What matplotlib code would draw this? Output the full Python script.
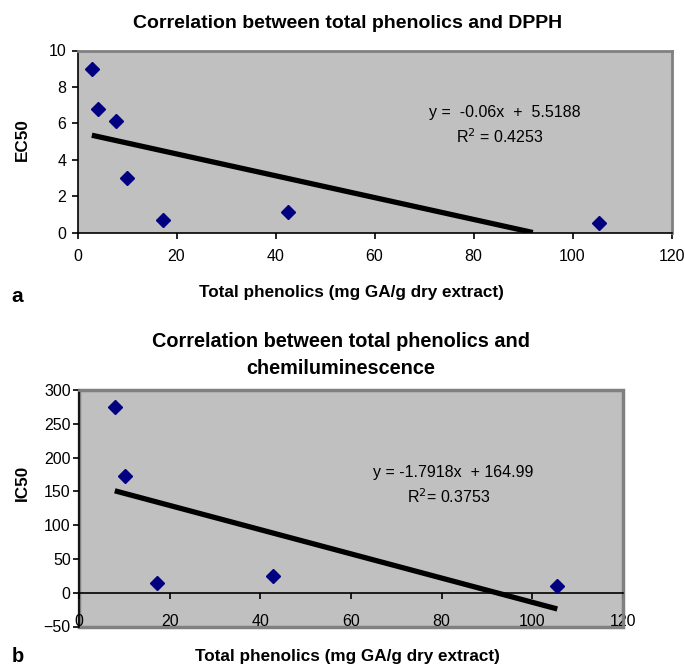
import numpy as np
import matplotlib
matplotlib.use("Agg")
import matplotlib.pyplot as plt
from matplotlib.patches import Rectangle

plt.rcParams["font.family"] = ["Liberation Sans", "DejaVu Sans"]

# Panel a: total phenolics vs DPPH EC50
phen_a = [2.9, 4.2, 7.8, 9.9, 17.2, 42.6, 105.4]
ec50 = [9.0, 6.8, 6.1, 3.0, 0.7, 1.1, 0.5]
slope_a, icpt_a, r2_a = -0.06, 5.5188, 0.4253

# Panel b: total phenolics vs chemiluminescence IC50
phen_b = [7.9, 10.1, 17.3, 42.8, 105.5]
ic50 = [275, 173, 14, 25, 10]
slope_b, icpt_b, r2_b = -1.7918, 164.99, 0.3753

xticks = [0, 20, 40, 60, 80, 100, 120]
yticks_a = [0, 2, 4, 6, 8, 10]
yticks_b = [-50, 0, 50, 100, 150, 200, 250, 300]

W, H = 685, 668
fig = plt.figure(figsize=(W / 100, H / 100), dpi=100)

def box(l, t, r, b):
    return [l / W, 1 - b / H, (r - l) / W, (b - t) / H]

bg = "#c0c0c0"
frame = "#808080"
navy = "#000080"
tick_fs = 11.5

def style(ax):
    ax.set_facecolor(bg)
    for s in ["top", "right"]:
        ax.spines[s].set_color(frame)
        ax.spines[s].set_linewidth(2)
    for s in ["left", "bottom"]:
        ax.spines[s].set_color("black")
        ax.spines[s].set_linewidth(1.2)
    ax.tick_params(direction="out", length=4, width=1.2, labelsize=tick_fs, colors="black")

def trend(ax, xs, m, c, ymin):
    # trendline over the data range, stopped where it meets the value axis floor
    x0, x1 = min(xs), max(xs)
    x1 = min(x1, (ymin - c) / m)
    xx = np.array([x0, x1])
    ax.plot(xx, m * xx + c, color="black", lw=3.8, solid_capstyle="butt", zorder=3)

# ---- a ----
ax1 = fig.add_axes(box(77.5, 50.5, 671.5, 232.5))
style(ax1)
ax1.plot(phen_a, ec50, "D", color=navy, ms=7, zorder=4)
trend(ax1, phen_a, slope_a, icpt_a, 0)
ax1.set_xlim(0, 120)
ax1.set_ylim(0, 10)
ax1.set_xticks(xticks)
ax1.set_yticks(yticks_a)
ax1.tick_params(axis="x", pad=8)
ax1.tick_params(axis="y", pad=4)
fig.text(505 / W, 1 - 112.7 / H, "y =  -0.06x  +  5.5188", ha="center", va="center", fontsize=11.5)
fig.text(500 / W, 1 - 136.7 / H, "R$^2$ = 0.4253", ha="center", va="center", fontsize=11.5)

fig.text(348 / W, 1 - 23 / H, "Correlation between total phenolics and DPPH",
         ha="center", va="center", fontsize=14, fontweight="bold")
fig.text(351 / W, 1 - 293 / H, "Total phenolics (mg GA/g dry extract)",
         ha="center", va="center", fontsize=12.3, fontweight="bold")
fig.text(22 / W, 1 - 140 / H, "EC50", ha="center", va="center", rotation=90,
         fontsize=12.3, fontweight="bold")
fig.text(17 / W, 1 - 297 / H, "a", ha="center", va="center", fontsize=15, fontweight="bold")

# ---- b ----
ax2 = fig.add_axes(box(79, 390, 623, 626.5))
style(ax2)
ax2.spines["bottom"].set_position(("data", 0))
ax2.add_patch(Rectangle((0, 0), 1, 1, transform=ax2.transAxes, fill=False,
                        edgecolor=frame, lw=2.5, clip_on=False, zorder=1))
ax2.plot(phen_b, ic50, "D", color=navy, ms=7, zorder=4)
trend(ax2, phen_b, slope_b, icpt_b, -50)
ax2.set_xlim(0, 120)
ax2.set_ylim(-50, 300)
ax2.set_xticks(xticks)
ax2.set_yticks(yticks_b)
ax2.tick_params(axis="x", pad=11)
ax2.tick_params(axis="y", pad=2)
fig.text(453 / W, 1 - 472.7 / H, "y = -1.7918x  + 164.99", ha="center", va="center", fontsize=11.5)
fig.text(449 / W, 1 - 496.7 / H, "R$^2$= 0.3753", ha="center", va="center", fontsize=11.5)

fig.text(341 / W, 1 - 341.7 / H, "Correlation between total phenolics and",
         ha="center", va="center", fontsize=14.3, fontweight="bold")
fig.text(341 / W, 1 - 368.3 / H, "chemiluminescence",
         ha="center", va="center", fontsize=14.3, fontweight="bold")
fig.text(347 / W, 1 - 657 / H, "Total phenolics (mg GA/g dry extract)",
         ha="center", va="center", fontsize=12.3, fontweight="bold")
fig.text(22 / W, 1 - 483 / H, "IC50", ha="center", va="center", rotation=90,
         fontsize=12.3, fontweight="bold")
fig.text(18 / W, 1 - 657 / H, "b", ha="center", va="center", fontsize=14.5, fontweight="bold")

fig.savefig("out.png", dpi=100, facecolor="white")
